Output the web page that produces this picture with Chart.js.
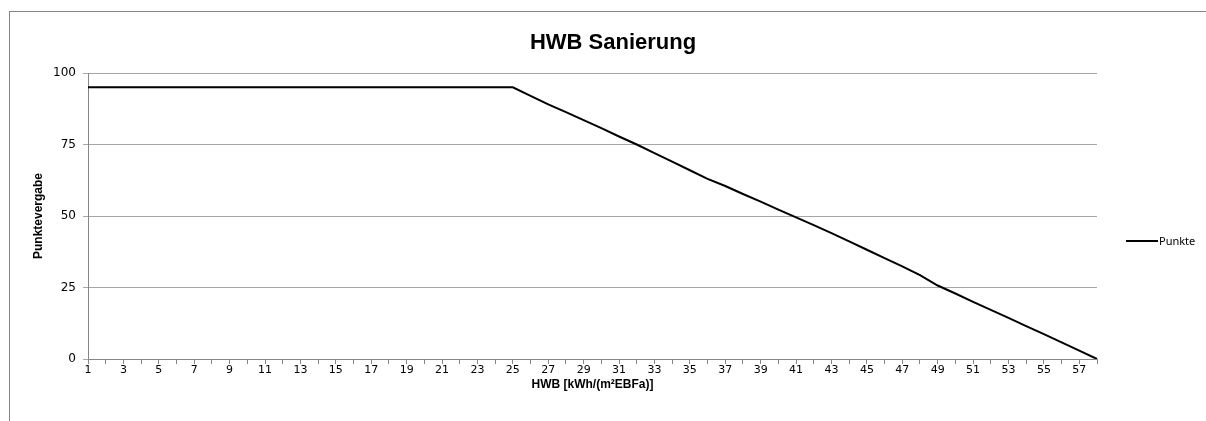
<!DOCTYPE html>
<html>
<head>
<meta charset="utf-8">
<script src="https://cdn.jsdelivr.net/npm/chart.js@4"></script>
<style>
  html, body { margin: 0; padding: 0; background: #fff; overflow: hidden; }
  #frame {
    position: absolute; left: 9px; top: 11px; width: 1220px; height: 430px;
    border: 1px solid #868686; box-sizing: border-box;
  }
  #wrap { position: absolute; left: 0; top: 0; width: 1206px; height: 421px; }
</style>
</head>
<body>
<div id="frame"></div>
<div id="wrap"><canvas id="hwbchart" width="1206" height="421"></canvas></div>
<script>
// HWB values 1..58
const hwbLabels = [];
for (let i = 1; i <= 58; i++) hwbLabels.push(String(i));

const punkteValues = [
  95, 95, 95, 95, 95, 95, 95, 95, 95, 95,
  95, 95, 95, 95, 95, 95, 95, 95, 95, 95,
  95, 95, 95, 95, 95, 92, 89, 86.3, 83.5, 80.7,
  77.8, 75, 72, 69, 66, 63, 60.5, 57.7, 55, 52.2,
  49.5, 46.8, 44, 41.1, 38.2, 35.3, 32.4, 29.3, 25.7, 22.9,
  20, 17.2, 14.4, 11.5, 8.7, 5.8, 2.9, 0
];

const yTicks = [0, 25, 50, 75, 100];

const chartTitle = 'HWB Sanierung';
const seriesName = 'Punkte';

const extraText = {
  id: 'extraText',
  afterDraw(chart) {
    const c = chart.ctx;
    c.save();
    c.fillStyle = '#000';
    c.font = 'bold 22px "Liberation Sans", Arial, sans-serif';
    c.textAlign = 'center';
    c.textBaseline = 'middle';
    c.fillText(chartTitle, 613, 43);

    // legend
    c.strokeStyle = '#000';
    c.lineWidth = 2;
    c.beginPath();
    c.moveTo(1126, 241);
    c.lineTo(1158, 241);
    c.stroke();
    c.font = '11px "Noto Sans", sans-serif';
    c.textAlign = 'left';
    c.fillText(seriesName, 1159, 242);
    c.restore();
  }
};

let ctx = document.getElementById('hwbchart');
new Chart(ctx, {
  type: 'line',
  data: {
    labels: hwbLabels,
    datasets: [{
      label: seriesName,
      data: punkteValues,
      borderColor: '#000',
      borderWidth: 2,
      pointRadius: 0,
      tension: 0,
      fill: false
    }]
  },
  options: {
    responsive: false,
    animation: false,
    devicePixelRatio: 1,
    layout: { padding: { top: 73, left: 0, right: 109, bottom: 0 } },
    plugins: {
      legend: { display: false },
      title: { display: false },
      tooltip: { enabled: false }
    },
    scales: {
      x: {
        offset: false,
        afterFit(scale) { scale.height = 62; },
        grid: {
          drawOnChartArea: false,
          drawTicks: true,
          tickLength: 5,
          color: '#868686'
        },
        border: { color: '#868686' },
        ticks: {
          autoSkip: false,
          maxRotation: 0,
          padding: 0,
          color: '#000',
          font: { family: '"DejaVu Sans", Verdana, sans-serif', size: 11 },
          callback: function(value, index) {
            return index % 2 === 0 ? this.getLabelForValue(value) : '';
          }
        },
        title: {
          display: true,
          text: 'HWB [kWh/(m²EBFa)]',
          color: '#000',
          font: { family: '"Liberation Sans", Arial, sans-serif', size: 12, weight: 'bold' },
          padding: { top: 0, bottom: 29 }
        }
      },
      y: {
        min: 0,
        max: 100,
        afterFit(scale) { scale.width = 88; },
        afterBuildTicks(scale) { scale.ticks = yTicks.map(v => ({ value: v })); },
        grid: {
          color: '#a6a6a6',
          drawTicks: true,
          tickLength: 5
        },
        border: { color: '#868686' },
        ticks: {
          padding: 7,
          color: '#000',
          font: { family: '"DejaVu Sans", Verdana, sans-serif', size: 12 }
        },
        title: {
          display: true,
          text: 'Punktevergabe',
          color: '#000',
          font: { family: '"Liberation Sans", Arial, sans-serif', size: 12, weight: 'bold' },
          padding: { top: 31, bottom: 0 }
        }
      }
    }
  },
  plugins: [extraText]
});
</script>
</body>
</html>
